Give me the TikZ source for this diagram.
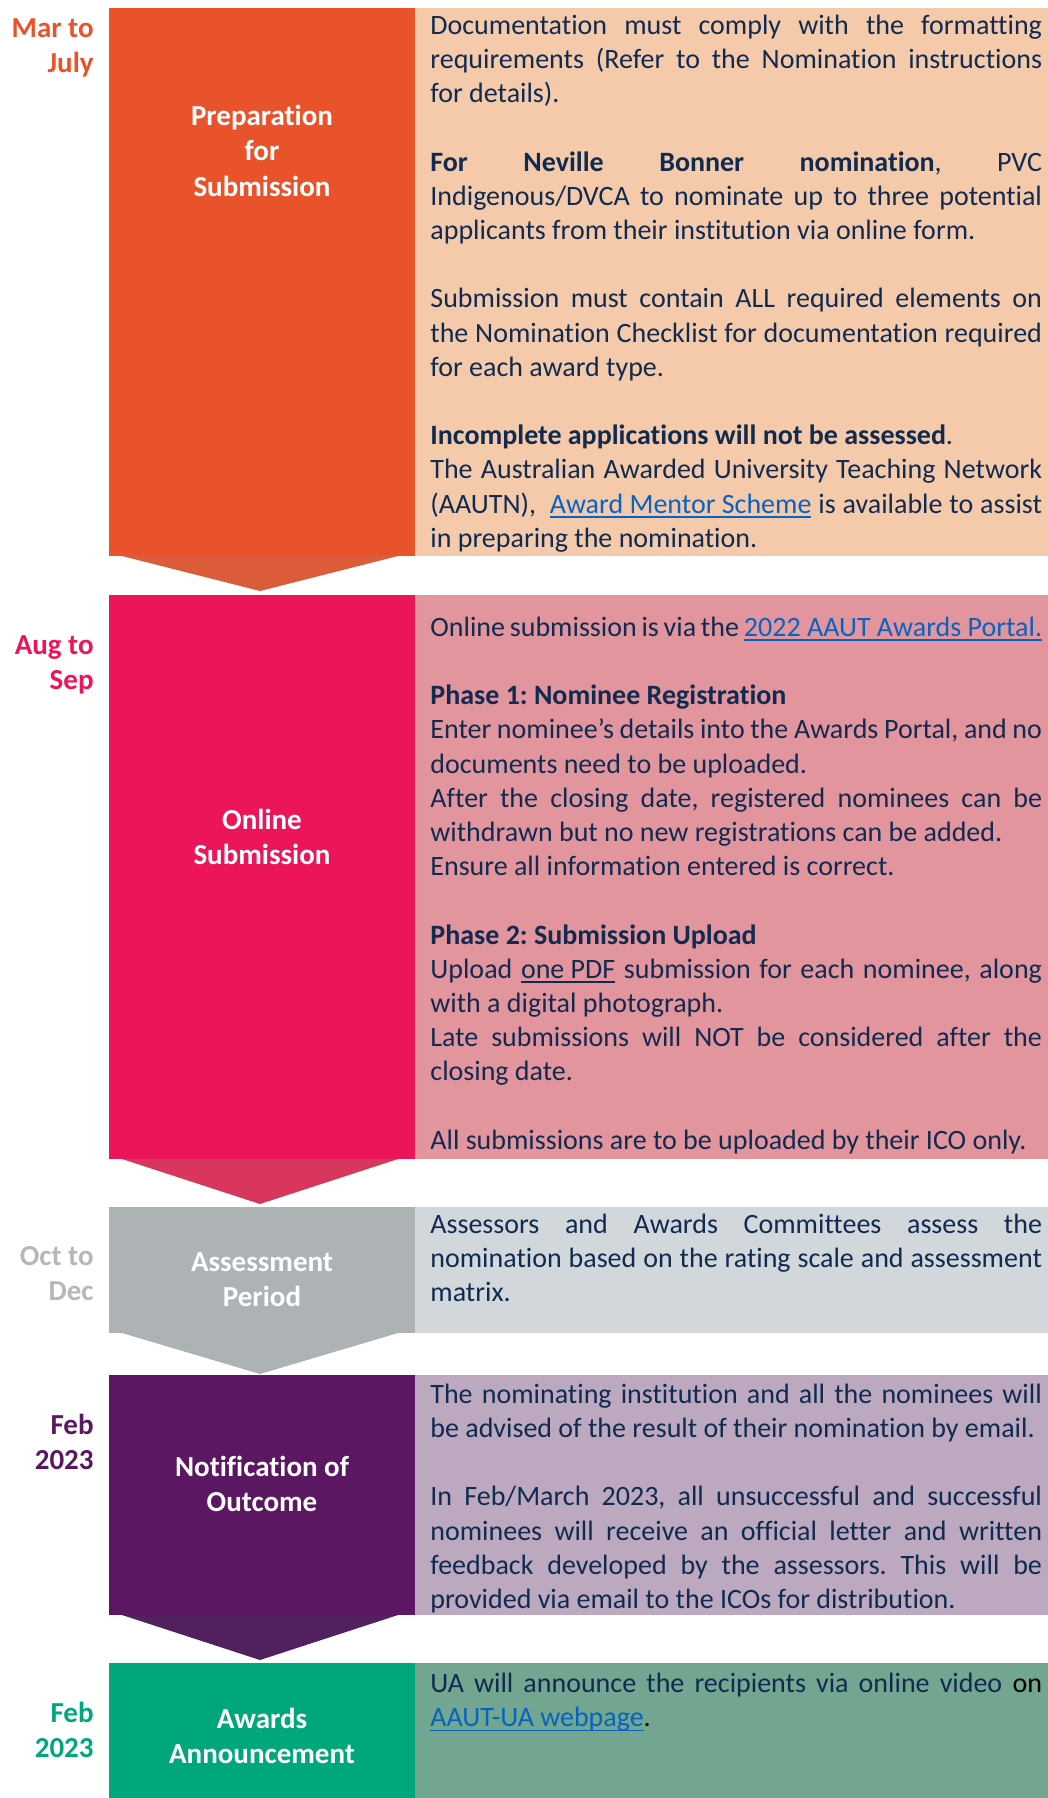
\documentclass[tikz,border=0pt]{standalone}
\usepackage{fontspec}
\setmainfont{Carlito}[Ligatures=CommonOff]
\usetikzlibrary{fit}

\definecolor{orangeM}{HTML}{E9532B}
\definecolor{orangeC}{HTML}{DC5C3A}
\definecolor{peach}{HTML}{F5CAAB}
\definecolor{pinkM}{HTML}{EC1559}
\definecolor{pinkC}{HTML}{D8365C}
\definecolor{rose}{HTML}{E3959E}
\definecolor{grayM}{HTML}{ADB2B4}
\definecolor{grayD}{HTML}{B4B8BA}
\definecolor{grayL}{HTML}{D2D7DB}
\definecolor{purpleM}{HTML}{5C1763}
\definecolor{purpleC}{HTML}{50205F}
\definecolor{lilac}{HTML}{BCA8BF}
\definecolor{greenM}{HTML}{00A77B}
\definecolor{sage}{HTML}{72A690}
\definecolor{navy}{HTML}{102A50}
\definecolor{linkblue}{HTML}{0563C1}

\frenchspacing
\hyphenpenalty=10000
\exhyphenpenalty=10000
\hbadness=10000
\newsavebox{\linkbox}
\newcommand{\gapline}{\par\vspace{17.1pt}}
\newcommand{\ulined}[1]{\leavevmode\sbox{\linkbox}{#1}\rlap{\rule[-2.4pt]{\wd\linkbox}{0.9pt}}\usebox{\linkbox}}
\newcommand{\weblink}[1]{\textcolor{linkblue}{\ulined{#1}}}

\begin{document}
\begin{tikzpicture}[x=0.5pt, y=-0.5pt,
    stagebox/.style={inner sep=0pt, outer sep=0pt},
    stagelabel/.style={text=white, align=center, font={\fontsize{14.5}{17.6}\selectfont\bfseries},
      execute at begin node=\strut, execute at end node=\strut},
    datelabel/.style={anchor=east, align=right, inner sep=0pt, font={\fontsize{14.5}{17.6}\selectfont\bfseries},
      execute at begin node=\strut, execute at end node=\strut},
    infotext/.style={anchor=north west, inner sep=0pt, text width=305.8pt, align=justify,
      text=navy, font={\fontsize{14}{17.1}\selectfont\parindent=0pt}}]
  \useasboundingbox (0,0) rectangle (1048,1798);

  % coloured columns
  \node[stagebox, fill=orangeM, fit={(109,8) (415,556)}] (prep) {};
  \node[stagebox, fill=peach, fit={(415,8) (1048,556)}] (prepInfo) {};
  \node[stagebox, fill=pinkM, fit={(109,595) (415,1159)}] (online) {};
  \node[stagebox, fill=rose, fit={(415,595) (1048,1159)}] (onlineInfo) {};
  \node[stagebox, fill=grayM, fit={(109,1207) (415,1333)}] (assess) {};
  \node[stagebox, fill=grayL, fit={(415,1207) (1048,1333)}] (assessInfo) {};
  \node[stagebox, fill=purpleM, fit={(109,1375) (415,1615)}] (notify) {};
  \node[stagebox, fill=lilac, fit={(415,1375) (1048,1615)}] (notifyInfo) {};
  \node[stagebox, fill=greenM, fit={(109,1663) (415,1798)}] (announce) {};
  \node[stagebox, fill=sage, fit={(415,1663) (1048,1798)}] (announceInfo) {};

  % chevrons
  \fill[orangeC] ([xshift=6.5pt]prep.south west) -- ([xshift=-8.5pt]prep.south east)
    -- ([xshift=-1pt,yshift=2pt]online.north) -- cycle;
  \fill[pinkC] ([xshift=6.5pt]online.south west) -- ([xshift=-8.5pt]online.south east)
    -- ([xshift=-1pt,yshift=1.5pt]assess.north) -- cycle;
  \fill[grayM] ([xshift=6.5pt]assess.south west) -- ([xshift=-8.5pt]assess.south east)
    -- ([xshift=-1pt,yshift=0.5pt]notify.north) -- cycle;
  \fill[purpleC] ([xshift=6.5pt]notify.south west) -- ([xshift=-8.5pt]notify.south east)
    -- ([xshift=-1pt,yshift=1.5pt]announce.north) -- cycle;

  % stage names
  \node[stagelabel] (prepLabel) at (262,156) {Preparation\\for\\Submission};
  \node[stagelabel] (onlineLabel) at (262,842) {Online\\Submission};
  \node[stagelabel] (assessLabel) at (262,1285) {Assessment\\Period};
  \node[stagelabel] (notifyLabel) at (262,1489) {Notification of\\Outcome};
  \node[stagelabel] (announceLabel) at (262,1741) {Awards\\Announcement};

  % dates
  \node[datelabel, text=orangeM] (prepDate) at (94,51) {Mar to\\July};
  \node[datelabel, text=pinkM] (onlineDate) at (94,668) {Aug to\\Sep};
  \node[datelabel, text=grayD] (assessDate) at (94,1279) {Oct to\\Dec};
  \node[datelabel, text=purpleM] (notifyDate) at (94,1447) {Feb\\2023};
  \node[datelabel, text=greenM] (announceDate) at (94,1735) {Feb\\2023};

  % details
  \node[infotext] (prepText) at (430,10) {\strut Documentation must comply with the formatting\linebreak
    requirements (Refer to the Nomination instructions\linebreak
    for details).\gapline
    \textbf{For Neville Bonner nomination}, PVC\linebreak
    Indigenous/DVCA to nominate up to three potential\linebreak
    applicants from their institution via online form.\gapline
    Submission must contain ALL required elements on\linebreak
    the Nomination Checklist for documentation required\linebreak
    for each award type.\gapline
    \textbf{Incomplete applications will not be assessed}.\par
    The Australian Awarded University Teaching Network\linebreak
    (AAUTN),~ \weblink{Award Mentor Scheme} is available to assist\linebreak
    in preparing the nomination.};
  \node[infotext] (onlineText) at (430,612) {\strut Online submission is via the \weblink{2022 AAUT Awards Portal.}\gapline
    \textbf{Phase 1: Nominee Registration}\par
    Enter nominee’s details into the Awards Portal, and no\linebreak
    documents need to be uploaded.\par
    After the closing date, registered nominees can be\linebreak
    withdrawn but no new registrations can be added.\par
    Ensure all information entered is correct.\gapline
    \textbf{Phase 2: Submission Upload}\par
    Upload \ulined{one PDF} submission for each nominee, along\linebreak
    with a digital photograph.\par
    Late submissions will NOT be considered after the\linebreak
    closing date.\gapline
    All submissions are to be uploaded by their ICO only.};
  \node[infotext] (assessText) at (430,1209) {\strut Assessors and Awards Committees assess the\linebreak
    nomination based on the rating scale and assessment\linebreak
    matrix.};
  \node[infotext] (notifyText) at (430,1379) {\strut The nominating institution and all the nominees will\linebreak
    be advised of the result of their nomination by email.\gapline
    In Feb/March 2023, all unsuccessful and successful\linebreak
    nominees will receive an official letter and written\linebreak
    feedback developed by the assessors. This will be\linebreak
    provided via email to the ICOs for distribution.};
  \node[infotext] (announceText) at (430,1668) {\strut UA will announce the recipients via online video \textcolor{black}{on}\linebreak
    \weblink{AAUT-UA webpage}\textcolor{black}{.}};
\end{tikzpicture}
\end{document}
